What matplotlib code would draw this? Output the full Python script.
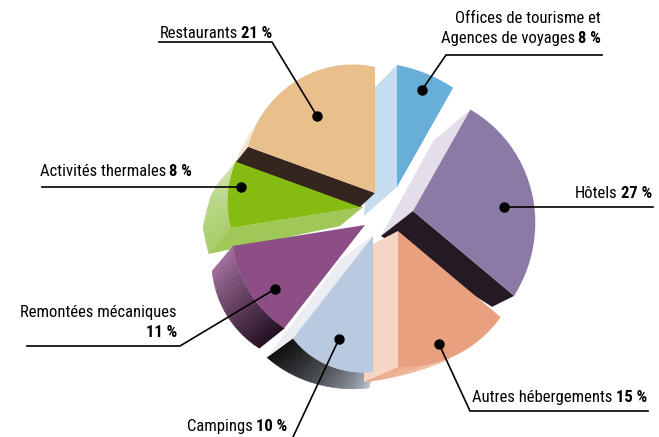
import numpy as np
import matplotlib
matplotlib.use('Agg')
import matplotlib.pyplot as plt

# Shares, clockwise from 12 o'clock
categories = ['Offices de tourisme et\nAgences de voyages', 'Hôtels', 'Autres hébergements',
              'Campings', 'Remontées mécaniques', 'Activités thermales', 'Restaurants']
shares = [8, 27, 15, 10, 11, 8, 21]

# The drawn slices are not quite proportional, so nudge the boundaries a little (degrees)
nudge = [0, -0.7, -4, 0, -2, -5.4, -5.6, 0]
apex = [(397, 187), (413, 211), (398, 231), (373, 236), (365, 225), (363, 207), (375, 193)]
radii = [(122, 117, 114), (116.5, 120, 132), (134, 137, 136), (136, 137, 130),
         (131, 133.6, 133.5), (133.7, 135.7, 135), (135, 137, 126)]
top_colors = ['#67AED8', '#8C7AA6', '#E8A07E', '#B9CAE0', '#8C4E85', '#85BC12', '#E9BF8C']

bounds = 90 - 3.6 * np.concatenate([[0], np.cumsum(shares)]) + np.array(nudge)

plt.rcParams['font.family'] = ['Roboto Condensed', 'Liberation Sans Narrow', 'Liberation Sans', 'DejaVu Sans']

fig = plt.figure(figsize=(6.59, 4.37), dpi=100)
ax = fig.add_axes([0, 0, 1, 1])
ax.set_xlim(0, 659)
ax.set_ylim(437, 0)
ax.axis('off')


def rim(i, t):
    """Point on the rim of slice i, t from 0 (first edge) to 1 (last edge)"""
    t = np.asarray(t, dtype=float)
    r0, r1, r2 = radii[i]
    r = r0 * 2 * (t - 0.5) * (t - 1) + r1 * 4 * t * (1 - t) + r2 * 2 * t * (t - 0.5)
    a = np.radians(bounds[i] + (bounds[i + 1] - bounds[i]) * t)
    return apex[i][0] + r * np.cos(a), apex[i][1] - r * np.sin(a)


def top(i, z):
    x, y = rim(i, np.linspace(0, 1, 60))
    ax.fill(np.r_[apex[i][0], x], np.r_[apex[i][1], y], color=top_colors[i], lw=0, zorder=z)


def edge_wall(i, t, off_rim, off_apex, color, z):
    # side face along one straight edge of slice i
    x, y = rim(i, t)
    ax_, ay_ = apex[i]
    ax.fill([x, ax_, ax_ + off_apex[0], x + off_rim[0]],
            [y, ay_, ay_ + off_apex[1], y + off_rim[1]], color=color, lw=0, zorder=z)


def rim_wall(i, t0, t1, offs, col0, col1, z, gamma=1.0, n=40):
    # side face below the curved rim, offsets evenly spaced along it, shaded along its length
    ts = np.linspace(t0, t1, n + 1)
    offs = np.array(offs, dtype=float)
    stops = np.linspace(0, 1, len(offs))
    c0 = np.array(matplotlib.colors.to_rgb(col0))
    c1 = np.array(matplotlib.colors.to_rgb(col1))
    for k in range(n):
        f0, f1 = k / n, (k + 1) / n
        xa, ya = rim(i, ts[k])
        xb, yb = rim(i, ts[k + 1])
        oa = np.interp(f0, stops, offs[:, 0]), np.interp(f0, stops, offs[:, 1])
        ob = np.interp(f1, stops, offs[:, 0]), np.interp(f1, stops, offs[:, 1])
        mix = ((f0 + f1) / 2) ** gamma
        ax.fill([xa, xb, xb + ob[0], xa + oa[0]], [ya, yb, yb + ob[1], ya + oa[1]],
                color=c0 + (c1 - c0) * mix, lw=0.3, zorder=z)


# Back to front
edge_wall(0, 0, (-22, 22), (-33, 29), '#C6DCEF', 1)
top(0, 2)
edge_wall(1, 0, (-37, 31), (-32, 25), '#E3DEE9', 1)
edge_wall(1, 1, (-22, 11), (-32, 25), '#231A24', 3)
top(1, 4)

rim_wall(6, 0, 0.25, [(-12, 15), (-2, 4)], '#F5E2CE', '#FBF3EA', 1)
rim_wall(5, 0, 1, [(-22, 26), (-25, 16), (-17, 2), (-12, 6), (-9, 13)], '#A6CC66', '#D0E4AE', 2)
edge_wall(5, 0, (-22, 26), (-23, 19), '#A0C858', 3)
top(5, 4)
edge_wall(6, 0, (-12, 15), (-15, 14), '#35251F', 5)
top(6, 6)

rim_wall(4, 0, 1, [(-25, 20), (-21, 25)], '#1E0A1C', '#A06C9C', 7)
top(4, 8)

rim_wall(3, 0, 1, [(-4, 16), (-26, 19)], '#C4D0E0', '#0A0A0A', 9, gamma=0.6)
edge_wall(3, 1, (-26, 19), (-31, 22), '#EBEDF3', 9)
rim_wall(2, 0.55, 1, [(-2, 2), (-34, 15)], '#F3D0BA', '#EDA988', 10)
edge_wall(2, 1, (-34, 15), (-33, 17), '#F5D5C3', 10)
top(3, 11)
top(2, 12)

# Leader lines: dot, elbow, end of the shelf
leaders = [((422, 90), (446, 55), (602, 55)), ((504, 207), (653, 207), (653, 207)),
           ((439, 344), (470, 411), (648, 411)), ((339, 339), (293, 437), (293, 437)),
           ((275, 289), (180, 346), (27, 346)), ((241, 187), (42, 187), (42, 187)),
           ((317, 116), (272, 42), (159, 42))]
for dot, elbow, end in leaders:
    ax.plot([dot[0], elbow[0], end[0]], [dot[1], elbow[1], end[1]], color='black', lw=1.2, zorder=20)
    ax.plot(*dot, 'o', color='black', ms=6.5, zorder=21)

# Labels: text with the share in bold after it
fs = 12


def label(x, y, name, share):
    # bold part first, then the plain part against it
    t = ax.text(x, y, f'{share} %', fontsize=fs, weight='bold', ha='right', va='baseline', zorder=30)
    fig.canvas.draw()
    box = t.get_window_extent()
    x0 = ax.transData.inverted().transform((box.x0, box.y0))[0]
    ax.text(x0 - 3, y, name, fontsize=fs, ha='right', va='baseline', zorder=30)


ax.text(601, 23, categories[0].split('\n')[0], fontsize=fs, ha='right', va='baseline')
label(601, 43, categories[0].split('\n')[1], shares[0])
label(652, 198, categories[1], shares[1])
label(647, 402, categories[2], shares[2])
label(287, 431, categories[3], shares[3])
ax.text(177, 317, categories[4], fontsize=fs, ha='right', va='baseline')
ax.text(177, 337, f'{shares[4]} %', fontsize=fs, weight='bold', ha='right', va='baseline')
label(192, 176, categories[5], shares[5])
label(272, 38, categories[6], shares[6])

fig.savefig('out.png', dpi=100)
